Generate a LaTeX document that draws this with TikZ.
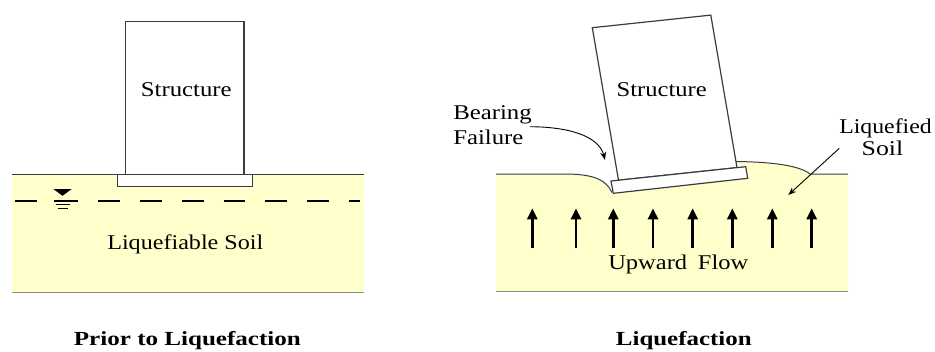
\documentclass[tikz,border=0pt]{standalone}
\usepackage{fontspec}
\setmainfont{Liberation Serif}
\usepackage{graphicx}
\usetikzlibrary{arrows.meta}

\definecolor{soil}{HTML}{FFFFCC}
\definecolor{edge}{HTML}{3C3C3C}
\definecolor{soilbase}{HTML}{8C8C7A}

% text at a given size, stretched to a given width
\newcommand\wtext[3]{\resizebox{#1pt}{\height}{\fontsize{#2}{#2}\selectfont #3}}

\tikzset{
  txt/.style={inner sep=0pt, outer sep=0pt, anchor=base},
  bldg/.style={draw=edge, line width=1.2pt, fill=white, line join=miter},
  soilfill/.style={fill=soil, draw=none},
  surface/.style={draw=edge, line width=1pt},
  soilbottom/.style={draw=soilbase, line width=1.2pt},
  flowarrow/.style={line width=2.6pt, -{Triangle[length=11pt,width=10pt]}},
  pointer/.style={line width=0.9pt, -{Stealth[length=8pt,width=6pt]}},
}

\begin{document}
\begin{tikzpicture}[x=1pt,y=-1pt]
  \useasboundingbox (0,0) rectangle (935,351);
  \fill[white] (0,0) rectangle (935,351);

  % ---------- before liquefaction ----------
  \fill[soil] (12,174.3) rectangle (364,292.7);
  \draw[surface] (12,174.3) -- (364,174.3);
  \draw[soilbottom] (12,292.7) -- (364,292.7);

  % water table
  \draw[line width=1.6pt, dash pattern=on 21.7pt off 20pt] (15,200.7) -- (360,200.7);
  \draw[line width=1.6pt] (53.5,200.7) -- (78,200.7);
  \fill (53.3,189) -- (71.7,189) -- (62.5,195.8) -- cycle;
  \draw[line width=1pt] (55.7,204.5) -- (70,204.5);
  \draw[line width=1pt] (58.3,208.3) -- (68.3,208.3);

  % structure on its footing
  \draw[bldg] (125.7,21.7) rectangle (244,174.3);
  \draw[bldg] (117.5,174.3) rectangle (252.7,186.7);

  \node[txt] (strA) at (186.3,96.7) {\wtext{90.7}{21}{Structure}};
  \node[txt] (soilA) at (185.3,249.3) {\wtext{156}{21}{Liquefiable Soil}};
  \node[txt] (titleA) at (187.4,345) {\wtext{227}{20}{\bfseries Prior to Liquefaction}};

  % ---------- during liquefaction ----------
  \path[soilfill] (496,174) -- (570,174)
      .. controls (595,175) and (606,180) .. (612,192.5)
      -- (747.7,178.3) -- (745.7,166.7) -- (736,161.5)
      .. controls (775,162) and (800,166) .. (810,174)
      -- (848,174) -- (848,291.7) -- (496,291.7) -- cycle;
  \draw[surface] (496,174) -- (570,174)
      .. controls (595,175) and (606,180) .. (612,192.5);
  \draw[surface] (736,161.5)
      .. controls (775,162) and (800,166) .. (810,174) -- (848,174);
  \draw[soilbottom] (496,291.7) -- (848,291.7);

  % tilted structure and footing
  \draw[bldg] (592.3,27.7) -- (710.8,15.1) -- (737,167.6) -- (618.5,180.2) -- cycle;
  \draw[bldg] (611,181) -- (745.7,166.7) -- (747.7,178.3) -- (613.3,193.3) -- cycle;

  % upward seepage
  \foreach \x in {532.3,576,613.3,653,692.7,732.3,772.3,811.7}
    \draw[flowarrow] (\x,248.3) -- (\x,208.3);

  \node[txt] (strB) at (661.7,96) {\wtext{90}{21}{Structure}};
  \node[txt] (flow) at (678.3,269.3) {\wtext{140}{21}{Upward\hspace{4pt} Flow}};
  \node[txt] (titleB) at (683.8,345) {\wtext{135.7}{20}{\bfseries Liquefaction}};

  % bearing failure callout
  \node[txt, anchor=base east] (bear) at (531.7,119)
      {\scalebox{1.18}[1]{\fontsize{21}{21}\selectfont Bearing}};
  \node[txt, anchor=base west] (fail) at ([yshift=-25pt]bear.base west)
      {\scalebox{1.18}[1]{\fontsize{21}{21}\selectfont Failure}};
  \coordinate (bfFrom) at (530,126.7);
  \coordinate (bfTo) at (605,160);
  \draw[pointer] (bfFrom) .. controls (578,127) and (600,140) .. (bfTo);

  % liquefied soil callout
  \node[txt] (liq) at (885.5,133.3) {\wtext{92.3}{21}{Liquefied}};
  \node[txt] (liqsoil) at (882.5,155) {\wtext{41.6}{21}{Soil}};
  \coordinate (lsFrom) at (839.3,148.3);
  \coordinate (lsTo) at (788.3,195);
  \draw[pointer] (lsFrom) -- (lsTo);
\end{tikzpicture}
\end{document}
